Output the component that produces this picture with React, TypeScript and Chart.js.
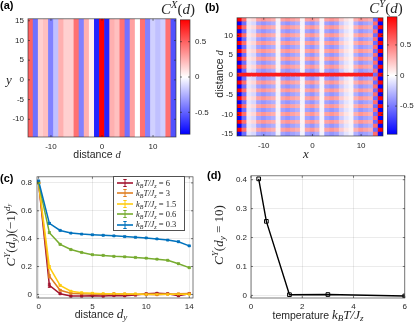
import React, { useEffect, useRef } from "react";
import { Chart, registerables } from "chart.js";

Chart.register(...registerables);

const SANS = '"Liberation Sans", Arial, Helvetica, sans-serif';
const SERIF = '"Liberation Serif", "DejaVu Serif", "Times New Roman", serif';
const INK = "#262626";

// ---------- panel (a): C^X(d), columns constant along y ----------
const aDistance = [-14, -13, -12, -11, -10, -9, -8, -7, -6, -5, -4, -3, -2, -1, 0, 1, 2, 3, 4, 5, 6, 7, 8, 9, 10, 11, 12, 13, 14];
const aCorrelation = [0.5, -0.45, 0.15, 0.2, -0.4, -0.2, 0.25, 0.15, 0.15, 0.45, -0.4, 0.25, 0.05, -0.7, 0.95, -0.7, 0.25, 0.2, 0.45, -0.45, 0.3, 0.0, 0.45, -0.4, -0.15, -0.2, -0.15, 0.45, -0.55];
const aRowsY = [-14, -13, -12, -11, -10, -9, -8, -7, -6, -5, -4, -3, -2, -1, 0, 1, 2, 3, 4, 5, 6, 7, 8, 9, 10, 11, 12, 13, 14, 15];
const aColorLimits = [-0.81, 0.81];
const aXTicks = [-10, 0, 10];
const aYTicks = [-10, -5, 0, 5, 10, 15];
const colorbarTicks = [-0.5, 0, 0.5];

// ---------- panel (b): C^Y(d) over x ----------
const bX = [-15, -14, -13, -12, -11, -10, -9, -8, -7, -6, -5, -4, -3, -2, -1, 0, 1, 2, 3, 4, 5, 6, 7, 8, 9, 10, 11, 12, 13, 14];
const bDistance = [-15, -14, -13, -12, -11, -10, -9, -8, -7, -6, -5, -4, -3, -2, -1, 0, 1, 2, 3, 4, 5, 6, 7, 8, 9, 10, 11, 12, 13, 14];
const bColumnAmplitude = [0.95, 0.55, 0.1, 0.15, 0.35, 0.4, 0.35, 0.3, 0.05, 0.35, 0.4, 0.35, 0.3, 0.05, 0.35, 0.4, 0.3, 0.05, 0.35, 0.4, 0.35, 0.2, 0.1, 0.05, 0.3, 0.4, 0.35, 0.3, -0.55, 0.95];
const bRowSign = [-1, 1, -1, 1, -1, 1, -1, 1, -1, 1, -1, 1, -1, 1, -1, 1, -1, 1, -1, 1, -1, 1, -1, 1, -1, 1, -1, 1, -1, 1];
const bCenterRow = [0.85, 0.85, 0.85, 0.85, 0.85, 0.85, 0.85, 0.85, 0.85, 0.85, 0.85, 0.85, 0.85, 0.85, 0.85, 0.85, 0.85, 0.85, 0.85, 0.85, 0.85, 0.85, 0.85, 0.85, 0.85, 0.85, 0.85, 0.85, -0.55, 0.95];
const bColorLimits = [-0.96, 0.96];
const bXTicks = [-10, 0, 10];
const bYTicks = [-15, -10, -5, 0, 5, 10];

// ---------- panel (c) ----------
const cDistance = [0, 1, 2, 3, 4, 5, 6, 7, 8, 9, 10, 11, 12, 13, 14];
const cTemperatureLabels = ["6", "3", "1.5", "0.6", "0.3"];
const cT6 = [0.8, 0.065, 0.005, -0.012, -0.012, -0.01, -0.012, -0.008, -0.01, -0.005, 0.005, 0.008, 0.005, -0.01, 0.005];
const cT3 = [0.8, 0.13, 0.03, 0.008, 0.004, 0.003, 0.002, 0.005, 0.003, 0.002, 0.0, -0.002, 0.002, 0.004, 0.006];
const cT1p5 = [0.8, 0.197, 0.065, 0.023, 0.012, 0.008, 0.005, 0.004, 0.003, 0.003, 0.002, 0.002, 0.002, 0.001, 0.002];
const cT0p6 = [0.8, 0.443, 0.359, 0.322, 0.301, 0.285, 0.28, 0.273, 0.27, 0.265, 0.26, 0.253, 0.245, 0.22, 0.192];
const cT0p3 = [0.814, 0.51, 0.459, 0.44, 0.433, 0.428, 0.424, 0.42, 0.415, 0.41, 0.405, 0.398, 0.39, 0.378, 0.348];
const cErrT6 = [0.004, 0.015, 0.006, 0.005, 0.004, 0.004, 0.004, 0.004, 0.004, 0.004, 0.005, 0.005, 0.005, 0.005, 0.005];
const cErrT3 = [0.004, 0.012, 0.005, 0.004, 0.004, 0.004, 0.004, 0.004, 0.004, 0.004, 0.004, 0.004, 0.004, 0.004, 0.004];
const cErrT1p5 = [0.004, 0.01, 0.005, 0.004, 0.003, 0.003, 0.003, 0.003, 0.003, 0.003, 0.003, 0.003, 0.003, 0.003, 0.003];
const cErrT0p6 = [0.004, 0.006, 0.004, 0.004, 0.003, 0.003, 0.003, 0.003, 0.003, 0.003, 0.003, 0.003, 0.003, 0.004, 0.004];
const cErrT0p3 = [0.004, 0.006, 0.004, 0.003, 0.003, 0.003, 0.003, 0.003, 0.003, 0.003, 0.003, 0.003, 0.003, 0.004, 0.004];
const cSeries = [cT6, cT3, cT1p5, cT0p6, cT0p3];
const cErrors = [cErrT6, cErrT3, cErrT1p5, cErrT0p6, cErrT0p3];
const cColors = ["#A2142F", "#E07F22", "#FFCC11", "#77AC30", "#0072BD"];
const cXTicks = [0, 5, 10, 14];
const cYTicks = [0, 0.2, 0.4, 0.6, 0.8];

// ---------- panel (d) ----------
const dTemperature = [0.3, 0.6, 1.5, 3, 6];
const dCorrelation = [0.403, 0.256, 0.0024, 0.003, -0.002];
const dXTicks = [0, 2, 4, 6];
const dYTicks = [0, 0.1, 0.2, 0.3, 0.4];

// ---------- helpers ----------
function bwr(v: number, lim: number) {
  const t = Math.max(-1, Math.min(1, v / lim));
  if (t >= 0) {
    const c = Math.round(255 * (1 - t));
    return `rgb(255,${c},${c})`;
  }
  const c = Math.round(255 * (1 + t));
  return `rgb(${c},${c},255)`;
}

function axis(min: number, max: number, ticks: number[], fit: "w" | "h", size: number, padding: number, grid = false, position?: string) {
  return {
    type: "linear",
    min,
    max,
    offset: false,
    position,
    grid: { display: grid, drawTicks: false, color: "rgba(38,38,38,0.13)", lineWidth: 0.75 },
    border: { display: false },
    ticks: { padding, autoSkip: false, maxRotation: 0, minRotation: 0, color: INK, font: { family: SANS, size: 8 } },
    afterBuildTicks: (s: any) => {
      s.ticks = ticks.map((v) => ({ value: v }));
    },
    afterFit: (s: any) => {
      if (fit === "w") s.width = size;
      else s.height = size;
    },
  } as any;
}

function boxPlugin(tickLen: number) {
  return {
    id: "matlabBox",
    afterDraw(chart: any) {
      const { ctx, chartArea: a } = chart;
      ctx.save();
      ctx.strokeStyle = "rgba(38,38,38,0.8)";
      ctx.lineWidth = 0.75;
      ctx.strokeRect(a.left, a.top, a.right - a.left, a.bottom - a.top);
      if (tickLen > 0) {
        ctx.beginPath();
        Object.values(chart.scales).forEach((s: any) => {
          if (!s.options.display || s.type !== "linear") return;
          s.ticks.forEach((t: any) => {
            const p = s.getPixelForValue(t.value);
            if (s.isHorizontal()) {
              ctx.moveTo(p, a.bottom);
              ctx.lineTo(p, a.bottom - tickLen);
              ctx.moveTo(p, a.top);
              ctx.lineTo(p, a.top + tickLen);
            } else {
              ctx.moveTo(a.left, p);
              ctx.lineTo(a.left + tickLen, p);
              ctx.moveTo(a.right, p);
              ctx.lineTo(a.right - tickLen, p);
            }
          });
        });
        ctx.stroke();
      }
      ctx.restore();
    },
  };
}

function errorBarPlugin(errors: number[][]) {
  return {
    id: "errorBars",
    afterDatasetsDraw(chart: any) {
      const { ctx } = chart;
      const xs = chart.scales.x;
      const ys = chart.scales.y;
      ctx.save();
      chart.data.datasets.forEach((ds: any, i: number) => {
        const e = errors[i];
        if (!e) return;
        ctx.strokeStyle = ds.borderColor;
        ctx.lineWidth = 0.9;
        ctx.beginPath();
        ds.data.forEach((p: any, j: number) => {
          const px = xs.getPixelForValue(p.x);
          const y1 = ys.getPixelForValue(p.y - e[j]);
          const y2 = ys.getPixelForValue(p.y + e[j]);
          ctx.moveTo(px, y1);
          ctx.lineTo(px, y2);
          ctx.moveTo(px - 1.5, y1);
          ctx.lineTo(px + 1.5, y1);
          ctx.moveTo(px - 1.5, y2);
          ctx.lineTo(px + 1.5, y2);
        });
        ctx.stroke();
      });
      ctx.restore();
    },
  };
}

const baseOptions = {
  animation: false,
  responsive: true,
  maintainAspectRatio: false,
  events: [],
};

// ---------- configs ----------
function configA(): any {
  const lo = Math.min(...aRowsY) - 0.5;
  const hi = Math.max(...aRowsY) + 0.5;
  return {
    type: "bar",
    data: {
      datasets: [
        {
          data: aDistance.map((d) => ({ x: d, y: [lo, hi] })),
          backgroundColor: aCorrelation.map((v) => bwr(v, aColorLimits[1])),
          borderWidth: 0,
          barPercentage: 1,
          categoryPercentage: 1,
          grouped: false,
        },
      ],
    },
    options: {
      ...baseOptions,
      layout: { padding: { top: 7, right: 4, left: 0, bottom: 0 } },
      plugins: { legend: { display: false }, tooltip: { enabled: false } },
      scales: {
        x: axis(-14.5, 14.5, aXTicks, "h", 14, 5),
        y: axis(lo, hi, aYTicks, "w", 26, 4),
      },
    },
    plugins: [boxPlugin(2)],
  };
}

function configB(): any {
  return {
    type: "bar",
    data: {
      datasets: bDistance.map((d, j) => ({
        data: bX.map((x) => ({ x, y: [d - 0.5, d + 0.5] })),
        backgroundColor: bX.map((_, i) => bwr(d === 0 ? bCenterRow[i] : bColumnAmplitude[i] * bRowSign[j], bColorLimits[1])),
        borderWidth: 0,
        barPercentage: 1,
        categoryPercentage: 1,
        grouped: false,
      })),
    },
    options: {
      ...baseOptions,
      layout: { padding: { top: 6, right: 4, left: 0, bottom: 0 } },
      plugins: { legend: { display: false }, tooltip: { enabled: false } },
      scales: {
        x: axis(-15.5, 14.5, bXTicks, "h", 14, 5),
        y: axis(-15.5, 14.5, bYTicks, "w", 26, 4),
      },
    },
    plugins: [boxPlugin(2)],
  };
}

function configColorbar(limits: number[], padTop: number, padBottom: number, axisWidth: number, padding: number): any {
  return {
    type: "bar",
    data: {
      labels: [""],
      datasets: [
        {
          data: [[limits[0], limits[1]]],
          backgroundColor: (c: any) => {
            const ch = c.chart;
            const a = ch.chartArea;
            if (!a) return "#fff";
            const g = ch.ctx.createLinearGradient(0, a.bottom, 0, a.top);
            g.addColorStop(0, "#0000ff");
            g.addColorStop(0.5, "#ffffff");
            g.addColorStop(1, "#ff0000");
            return g;
          },
          borderWidth: 0,
          barPercentage: 1,
          categoryPercentage: 1,
        },
      ],
    },
    options: {
      ...baseOptions,
      layout: { padding: { top: padTop, right: 0, left: 0, bottom: padBottom } },
      plugins: { legend: { display: false }, tooltip: { enabled: false } },
      scales: {
        x: { display: false },
        y: axis(limits[0], limits[1], colorbarTicks, "w", axisWidth, padding, false, "right"),
      },
    },
    plugins: [boxPlugin(2)],
  };
}

function configC(): any {
  return {
    type: "line",
    data: {
      datasets: cSeries.map((s, i) => ({
        label: "kBT/Jz = " + cTemperatureLabels[i],
        data: cDistance.map((x, j) => ({ x, y: s[j] })),
        borderColor: cColors[i],
        backgroundColor: cColors[i],
        borderWidth: 1.5,
        pointStyle: "rect",
        pointRadius: 1.6,
        pointBorderWidth: 0.5,
        order: cSeries.length - i,
        tension: 0,
      })),
    },
    options: {
      ...baseOptions,
      layout: { padding: { top: 6, right: 6, left: 0, bottom: 0 } },
      plugins: { legend: { display: false }, tooltip: { enabled: false } },
      scales: {
        x: axis(-0.15, 14.35, cXTicks, "h", 14, 4, true),
        y: axis(-0.0257, 0.8438, cYTicks, "w", 37, 5, true),
      },
    },
    plugins: [errorBarPlugin(cErrors), boxPlugin(2)],
  };
}

function configD(): any {
  return {
    type: "line",
    data: {
      datasets: [
        {
          label: "C^Y(d_y = 10)",
          data: dTemperature.map((x, i) => ({ x, y: dCorrelation[i] })),
          borderColor: "#000",
          backgroundColor: "#fff",
          borderWidth: 1.4,
          pointStyle: "rect",
          pointRadius: 2.6,
          pointBorderWidth: 1,
          pointBorderColor: "#000",
          pointBackgroundColor: "rgba(255,255,255,0)",
          tension: 0,
        },
      ],
    },
    options: {
      ...baseOptions,
      layout: { padding: { top: 6, right: 6, left: 0, bottom: 0 } },
      plugins: { legend: { display: false }, tooltip: { enabled: false } },
      scales: {
        x: axis(0, 6, dXTicks, "h", 14, 4, true),
        y: axis(-0.009, 0.4135, dYTicks, "w", 30, 4, true),
      },
    },
    plugins: [boxPlugin(2)],
  };
}

// ---------- components ----------
function ChartBox({ x, y, w, h, make }: { x: number; y: number; w: number; h: number; make: () => any }) {
  const ref = useRef<HTMLCanvasElement>(null);
  useEffect(() => {
    const chart = new Chart(ref.current as HTMLCanvasElement, make());
    return () => chart.destroy();
  }, []);
  return (
    <div style={{ position: "absolute", left: x, top: y, width: w, height: h }}>
      <canvas ref={ref} />
    </div>
  );
}

const I = ({ children }: { children: any }) => <span style={{ fontFamily: SERIF, fontStyle: "italic" }}>{children}</span>;
const R = ({ children }: { children: any }) => <span style={{ fontFamily: SERIF }}>{children}</span>;
const Sub = ({ children }: { children: any }) => (
  <span style={{ fontSize: "0.7em", verticalAlign: "-0.28em", lineHeight: 0 }}>{children}</span>
);
const Sup = ({ children }: { children: any }) => (
  <span style={{ fontSize: "0.7em", verticalAlign: "0.5em", lineHeight: 0 }}>{children}</span>
);

function Label({ cx, cy, size, rotate, children, family }: { cx: number; cy: number; size: number; rotate?: boolean; children: any; family?: string }) {
  return (
    <div
      style={{
        position: "absolute",
        left: cx,
        top: cy,
        transform: `translate(-50%, -50%)${rotate ? " rotate(-90deg)" : ""}`,
        whiteSpace: "nowrap",
        fontSize: size,
        lineHeight: 1,
        color: INK,
        fontFamily: family || SANS,
      }}
    >
      {children}
    </div>
  );
}

function PanelTag({ x, y, text }: { x: number; y: number; text: string }) {
  return (
    <div style={{ position: "absolute", left: x, top: y, fontFamily: SANS, fontWeight: "bold", fontSize: 11, lineHeight: 1, color: "#000" }}>
      {text}
    </div>
  );
}

function KbT() {
  return (
    <I>
      k<Sub>B</Sub>T<R>/</R>J<Sub>z</Sub>
    </I>
  );
}

function Legend() {
  return (
    <div
      style={{
        position: "absolute",
        left: 113,
        top: 176,
        width: 72,
        height: 55,
        boxSizing: "border-box",
        border: "0.75px solid rgba(38,38,38,0.8)",
        background: "#fff",
      }}
    >
      {cTemperatureLabels.map((t, i) => (
        <div key={t} style={{ position: "absolute", left: 3, top: 1 + i * 10.4, height: 10, display: "flex", alignItems: "center" }}>
          <svg width="16" height="10" style={{ display: "block" }}>
            <line x1="0" y1="5" x2="16" y2="5" stroke={cColors[i]} strokeWidth="1.6" />
            <line x1="8" y1="1.5" x2="8" y2="8.5" stroke={cColors[i]} strokeWidth="1" />
            <line x1="6.3" y1="1.5" x2="9.7" y2="1.5" stroke={cColors[i]} strokeWidth="1" />
            <line x1="6.3" y1="8.5" x2="9.7" y2="8.5" stroke={cColors[i]} strokeWidth="1" />
          </svg>
          <span style={{ marginLeft: 3, fontSize: 8.5, lineHeight: 1, color: INK, fontFamily: SERIF }}>
            <KbT /> = {t}
          </span>
        </div>
      ))}
    </div>
  );
}

export default function App() {
  return (
    <div style={{ position: "absolute", left: 0, top: 0, width: 415, height: 326, background: "#fff", overflow: "hidden" }}>
      <ChartBox x={2} y={10} w={178} h={141} make={configA} />
      <ChartBox x={180} y={10} w={36} h={134} make={() => configColorbar(aColorLimits, 7, 6, 26, 5)} />
      <ChartBox x={211} y={9} w={176} h={141} make={configB} />
      <ChartBox x={387} y={9} w={28} h={133} make={() => configColorbar(bColorLimits, 6, 6, 18, 3)} />
      <ChartBox x={0} y={167} w={199} h={145} make={configC} />
      <ChartBox x={221} y={167} w={190} h={145} make={configD} />

      <PanelTag x={0} y={0} text="(a)" />
      <PanelTag x={205} y={2} text="(b)" />
      <PanelTag x={0} y={173} text="(c)" />
      <PanelTag x={207} y={170} text="(d)" />

      <Label cx={178} cy={9} size={15} family={SERIF}>
        <I>C</I>
        <Sup>
          <I>X</I>
        </Sup>
        <R>(</R>
        <I>d</I>
        <R>)</R>
      </Label>
      <Label cx={386} cy={8} size={15} family={SERIF}>
        <I>C</I>
        <Sup>
          <I>Y</I>
        </Sup>
        <R>(</R>
        <I>d</I>
        <R>)</R>
      </Label>

      <Label cx={97} cy={155} size={10.5}>
        distance <I>d</I>
      </Label>
      <Label cx={9} cy={79} size={13} family={SERIF}>
        <I>y</I>
      </Label>
      <Label cx={220} cy={74} size={10.5} rotate>
        distance <I>d</I>
      </Label>
      <Label cx={306} cy={153} size={13} family={SERIF}>
        <I>x</I>
      </Label>

      <Label cx={10} cy={235} size={13} rotate family={SERIF}>
        <I>C</I>
        <Sup>
          <I>Y</I>
        </Sup>
        <R>(</R>
        <I>
          d<Sub>y</Sub>
        </I>
        <R>)(−1)</R>
        <Sup>
          <I>
            d<Sub>y</Sub>
          </I>
        </Sup>
      </Label>
      <Label cx={101} cy={313} size={10.5}>
        distance{" "}
        <span style={{ fontSize: 13 }}>
          <I>
            d<Sub>y</Sub>
          </I>
        </span>
      </Label>

      <Label cx={218} cy={235} size={13} rotate family={SERIF}>
        <I>C</I>
        <Sup>
          <I>Y</I>
        </Sup>
        <R>(</R>
        <I>
          d<Sub>y</Sub>
        </I>
        <R> = 10)</R>
      </Label>
      <Label cx={318} cy={314} size={10.5}>
        temperature{" "}
        <span style={{ fontSize: 13 }}>
          <KbT />
        </span>
      </Label>

      <Legend />
    </div>
  );
}
